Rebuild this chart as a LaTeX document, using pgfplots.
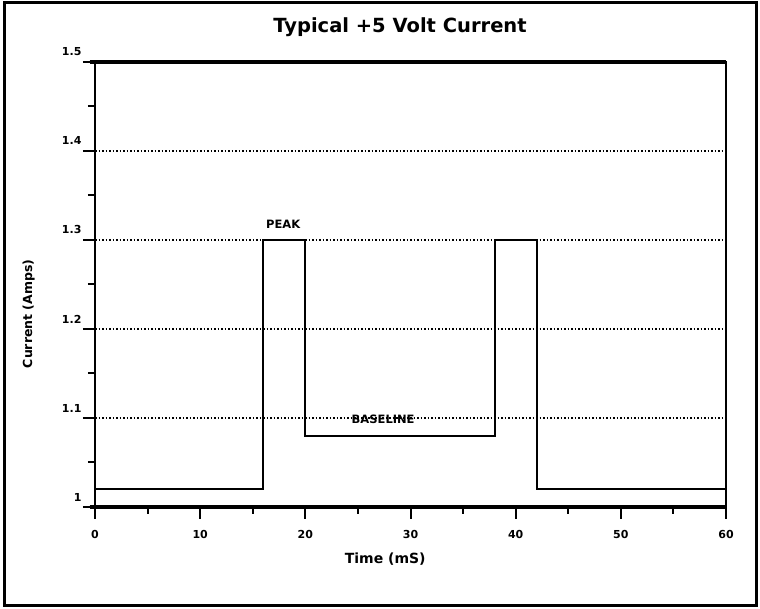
\documentclass[border=0pt]{standalone}
\usepackage{pgfplots}
\pgfplotsset{compat=1.18}
\usepackage{fontspec}
\setmainfont{DejaVu Sans}
\begin{document}
\begin{tikzpicture}[x=1pt,y=1pt]
\useasboundingbox (0,0) rectangle (760,609);
\draw[line width=3pt] (4,3) rectangle (756,606);
\node[font=\fontsize{19.5}{22}\selectfont\bfseries] at (400,582) {Typical +5 Volt Current};
\begin{axis}[
  at={(95pt,102pt)}, anchor=south west,
  scale only axis, width=631pt, height=445pt,
  xmin=0, xmax=60, ymin=1, ymax=1.5,
  clip=false,
  axis line style={line width=1.6pt},
  xtick={0,10,...,60}, minor xtick={5,15,...,55},
  ytick={1,1.1,1.2,1.3,1.4,1.5}, minor ytick={1.05,1.15,...,1.45},
  yticklabels={1,1.1,1.2,1.3,1.4,1.5},
  tick pos=left, tick align=outside,
  major tick length=12pt, minor tick length=7pt,
  every tick/.style={black, line width=2pt},
  ymajorgrids, grid style={black, line width=1.5pt, dash pattern=on 1.5pt off 2pt},
  /pgf/number format/assume math mode=true,
  xticklabel style={font=\fontsize{11}{13}\selectfont\bfseries, yshift=-8pt},
  yticklabel style={font=\fontsize{11}{13}\selectfont\bfseries, anchor=east, xshift=2pt, yshift=10pt},
  xlabel={Time (mS)}, ylabel={Current (Amps)},
  xlabel style={font=\fontsize{14}{16}\selectfont\bfseries, at={(axis description cs:0.46,-0.117)}, anchor=center},
  ylabel style={font=\fontsize{12.5}{15}\selectfont\bfseries, at={(axis description cs:-0.105,0.434)}, anchor=center, rotate=0},
]
\addplot[black, line width=2pt, mark=none] coordinates {
(0,1.02)(16,1.02)(16,1.3)(20,1.3)(20,1.08)(38,1.08)(38,1.3)(42,1.3)(42,1.02)(60,1.02)};
\draw[line width=4pt] (axis cs:-0.5,1.5) -- (axis cs:60,1.5);
\draw[line width=4pt] (axis cs:-0.5,1) -- (axis cs:60,1);
\node[font=\fontsize{11.5}{13}\selectfont\bfseries] at (axis cs:17.9,1.318) {PEAK};
\node[font=\fontsize{11.5}{13}\selectfont\bfseries] at (axis cs:27.4,1.099) {BASELINE};
\end{axis}
\end{tikzpicture}
\end{document}
